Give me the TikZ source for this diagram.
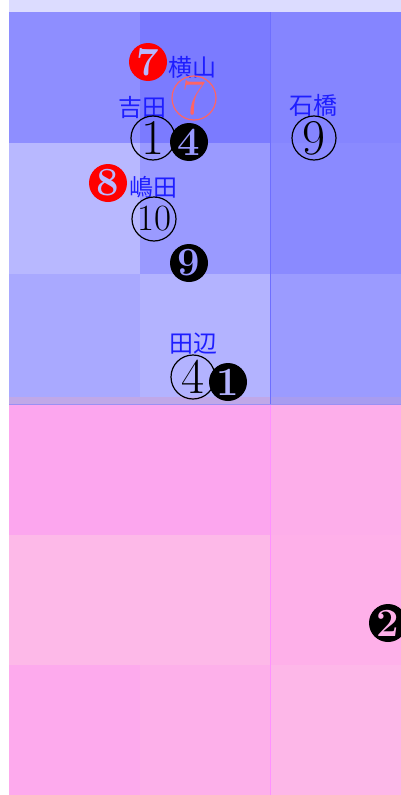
\documentclass[tikz,border=0pt]{standalone}
\usepackage{fontspec}
\newfontfamily\jpfont{Noto Sans CJK JP}
\definecolor{nhan}{RGB}{30,30,255}
\definecolor{vien}{RGB}{255,100,100}
\definecolor{dai}{HTML}{DCDCFF}
\definecolor{xanhA}{HTML}{8E8EFF}
\definecolor{xanhB}{HTML}{7B7BFF}
\definecolor{xanhC}{HTML}{8585FF}
\definecolor{xanhD}{HTML}{B8B8FF}
\definecolor{xanhE}{HTML}{9A9AFF}
\definecolor{xanhF}{HTML}{8A8AFF}
\definecolor{xanhG}{HTML}{A9A9FF}
\definecolor{xanhH}{HTML}{B3B3FF}
\definecolor{xanhI}{HTML}{9B9BFF}
\definecolor{giuaA}{HTML}{C0A8E8}
\definecolor{giuaB}{HTML}{A89CF0}
\definecolor{hongA}{HTML}{FCA6EE}
\definecolor{hongB}{HTML}{FDAEEA}
\definecolor{hongC}{HTML}{FDB9E8}
\definecolor{hongD}{HTML}{FEB0E9}
\definecolor{hongE}{HTML}{FDAAED}
\definecolor{hongF}{HTML}{FDB0EA}
\definecolor{hongG}{HTML}{FDB7E8}
\definecolor{keXanh}{HTML}{6E6EFF}
\definecolor{keHong}{HTML}{FF90FF}
\definecolor{keGiua}{HTML}{9A90F4}
\begin{document}
\begin{tikzpicture}[x=1pt,y=-1pt,
	ten/.style={text=nhan,inner sep=0pt,font=\jpfont\fontsize{24}{24}\selectfont},
	tron/.style={circle,draw,line width=1.2pt,minimum size=44pt,inner sep=0pt,font=\fontsize{50}{50}\selectfont},
	dac/.style={circle,fill=black,minimum size=38pt,inner sep=0pt,font=\fontsize{40}{40}\selectfont\bfseries},
	dacdo/.style={dac,fill=red}]
	\useasboundingbox (0,0) rectangle (401,795);
	% o mau
	\fill[dai] (9,0) rectangle (401,12);
	\fill[xanhA] (9,12) rectangle (140,143);
	\fill[xanhB] (140,12) rectangle (270,143);
	\fill[xanhC] (270,12) rectangle (401,143);
	\fill[xanhD] (9,143) rectangle (140,274);
	\fill[xanhE] (140,143) rectangle (270,274);
	\fill[xanhF] (270,143) rectangle (401,274);
	\fill[xanhG] (9,274) rectangle (140,404);
	\fill[xanhH] (140,274) rectangle (270,404);
	\fill[xanhI] (270,274) rectangle (401,404);
	\fill[giuaA] (9,397) rectangle (270,404);
	\fill[giuaB] (270,397) rectangle (401,404);
	\fill[hongA] (9,404) rectangle (270,535);
	\fill[hongB] (270,404) rectangle (401,535);
	\fill[hongC] (9,535) rectangle (270,665);
	\fill[hongD] (270,535) rectangle (401,665);
	\fill[hongE] (9,665) rectangle (140,795);
	\fill[hongF] (140,665) rectangle (270,795);
	\fill[hongG] (270,665) rectangle (401,795);
	\draw[keXanh,line width=1pt] (270,12)--(270,404);
	\draw[keHong,line width=1pt] (270,404)--(270,795);
	\draw[keGiua,line width=1pt] (9,404)--(401,404);
	% nhan va so
	\path
	(148,62) node[dacdo,text=xanhD](s7){7}
	(192,67) node[ten](yokoyama){横山}
	(194,98) node[tron,draw=vien,text=vien](k7){7}
	(142,107) node[ten](yoshida){吉田}
	(153,138) node[tron](k1){1}
	(189,142) node[dac,text=xanhE](d4){4}
	(313,105) node[ten](ishibashi){石橋}
	(314,138) node[tron](k9){9}
	(108,183) node[dacdo,text=xanhD](s8){8}
	(153,187) node[ten](shimada){嶋田}
	(154,219) node[tron,font=\fontsize{37}{37}\selectfont](k10){10}
	(189,263) node[dac,text=xanhE](d9){9}
	(193,344) node[ten](tanabe){田辺}
	(193,377) node[tron](k4){4}
	(228,382) node[dac,text=xanhH](d1){1}
	(388,623) node[dac,text=hongD](d2){2}
	;
\end{tikzpicture}
\end{document}
